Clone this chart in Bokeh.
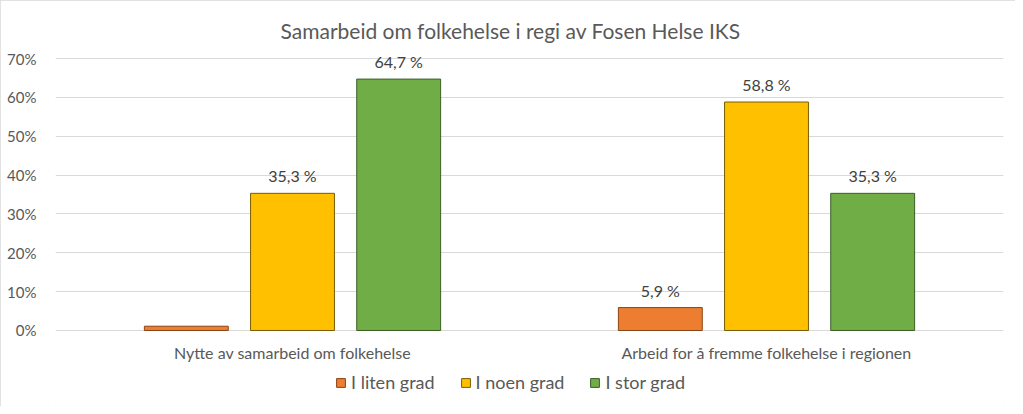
from bokeh.plotting import figure
from bokeh.models import ColumnDataSource, FactorRange, NumeralTickFormatter, Legend, LegendItem, Range1d
from bokeh.transform import dodge
from bokeh.core.properties import value
from bokeh.embed import file_html
from bokeh.resources import INLINE

categories = ["Nytte av samarbeid om folkehelse", "Arbeid for å fremme folkehelse i regionen"]
series = ["I liten grad", "I noen grad", "I stor grad"]
liten = [0.011, 0.059]
noen = [0.353, 0.588]
stor = [0.647, 0.353]
liten_labels = ["", "5,9 %"]
noen_labels = ["35,3 %", "58,8 %"]
stor_labels = ["64,7 %", "35,3 %"]
y_ticks = [0, 0.1, 0.2, 0.3, 0.4, 0.5, 0.6, 0.7]
title_text = "Samarbeid om folkehelse i regi av Fosen Helse IKS"

fills = ["#ED7D31", "#FFC000", "#70AD47"]
edges = ["#8A4414", "#7A5C00", "#3B5E25"]
FONT = "Lato"
GREY = "#595959"

source = ColumnDataSource(dict(cat=categories, base=[0] * len(categories), liten=liten, noen=noen,
                               stor=stor, l_lab=liten_labels, n_lab=noen_labels, s_lab=stor_labels))

# the frame reaches down to the legend; 0 sits 76 px above the bottom, 70 % 272 px above 0
p = figure(x_range=FactorRange(factors=categories, range_padding=0),
           y_range=Range1d(-0.1956, 0.7206),
           frame_width=948, frame_height=356, output_backend="svg", toolbar_location=None,
           min_border_left=55, min_border_right=12, min_border_top=50, min_border_bottom=0)
p.styles = {"outline": "1px solid #D9D9D9", "outline-offset": "-1px"}
p.outline_line_color = None
p.xgrid.grid_line_color = None
p.xaxis.visible = False
p.ygrid.grid_line_color = "#D9D9D9"
p.ygrid.ticker = y_ticks
p.yaxis.ticker = y_ticks
p.yaxis.formatter = NumeralTickFormatter(format="0%")
p.yaxis.axis_line_color = None
p.yaxis.major_tick_line_color = None
p.yaxis.minor_tick_line_color = None
p.yaxis.major_label_text_font = FONT
p.yaxis.major_label_text_color = GREY
p.yaxis.major_label_text_font_size = "15px"
p.yaxis.major_label_standoff = 13

p.title.text = title_text
p.title.align = "left"
p.title.offset = 225
p.title.standoff = 16
p.title.text_font = FONT
p.title.text_font_size = "21px"
p.title.text_font_style = "normal"
p.title.text_color = GREY

# category labels under the zero line
p.text(x="cat", y="base", text="cat", source=source, text_align="center",
       text_baseline="middle", y_offset=22, text_font=value(FONT),
       text_font_size="16px", text_color=GREY)

offsets = [-0.224, 0.0, 0.224]
cols = ["liten", "noen", "stor"]
labs = ["l_lab", "n_lab", "s_lab"]
items = []
for off, col, lab, fc, ec, name in zip(offsets, cols, labs, fills, edges, series):
    r = p.vbar(x=dodge("cat", off, range=p.x_range), top=col, width=0.177, bottom=0,
               source=source, fill_color=fc, line_color=ec, line_width=1)
    p.text(x=dodge("cat", off, range=p.x_range), y=col, text=lab, source=source,
           text_align="center", text_baseline="bottom", y_offset=-8,
           text_font=value(FONT), text_font_size="16px", text_color="#404040")
    items.append(LegendItem(label=name, renderers=[r]))

legend = Legend(items=items, orientation="horizontal", location=(280, 13),
                label_text_font=FONT, label_text_font_size="18px", label_text_color=GREY,
                glyph_width=11, glyph_height=11, label_height=18, label_standoff=5,
                spacing=25, padding=0, margin=0, background_fill_alpha=0,
                border_line_color=None)
p.add_layout(legend, "center")

open("out.html", "w").write(file_html(p, INLINE))
